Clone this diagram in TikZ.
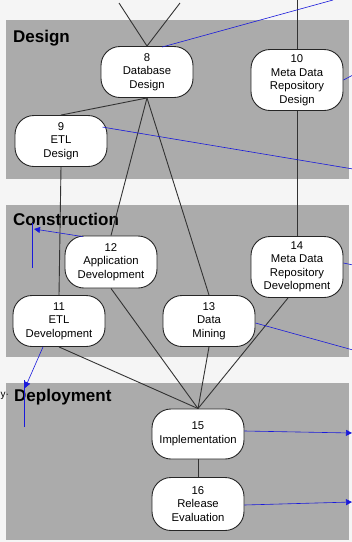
\documentclass[tikz,border=0pt]{standalone}
\usepackage{fontspec}
\setmainfont{Liberation Sans}
\usetikzlibrary{arrows.meta,calc}
\definecolor{bandgray}{HTML}{ABABAB}
\definecolor{bglight}{HTML}{F5F5F5}
\definecolor{annblue}{HTML}{1A1ADB}
\tikzset{
  task/.style={draw=black!85, line width=0.9pt, fill=white, rounded corners=19pt,
    minimum width=92pt, align=center, inner sep=1pt,
    font=\fontsize{11.3}{13.5}\selectfont},
  band/.style={fill=bandgray, draw=none},
  phase/.style={anchor=base west, font=\fontsize{17}{20}\selectfont\bfseries, inner sep=0pt},
  link/.style={draw=black!80, line width=0.9pt},
  ann/.style={draw=annblue, line width=0.6pt},
  annarrow/.style={ann, -{Triangle[length=6pt,width=6pt]}}
}
\begin{document}
\begin{tikzpicture}[x=1pt,y=-1pt]
\useasboundingbox (0,0) rectangle (352,542);
\clip (0,0) rectangle (352,542);
\fill[bglight] (0,0) rectangle (352,542);
% bands
\fill[band] (6,20) rectangle (349,179);
\fill[band] (6,205) rectangle (349,357);
\fill[band] (6,383) rectangle (349,540);
% phase labels
\node[phase] (lDesign) at (13,42) {Design};
\node[phase] (lConstr) at (13,225) {Construction};
\node[phase] (lDeploy) at (14,401) {Deployment};
\node[anchor=base west, font=\fontsize{10}{12}\selectfont, inner sep=0pt] (lstray) at (0.5,397) {y·};
% nodes
\node[task, minimum height=51pt] (n8) at (147,72) {8\\Database\\Design};
\node[task, minimum height=61pt] (n10) at (297,80) {10\\Meta Data\\Repository\\Design};
\node[task, minimum height=51pt] (n9) at (61,141) {9\\ETL\\Design};
\node[task, minimum height=52pt] (n12) at (111,262) {12\\Application\\Development};
\node[task, minimum height=61pt] (n14) at (297,267) {14\\Meta Data\\Repository\\Development};
\node[task, minimum height=51pt] (n11) at (59,321) {11\\ETL\\Development};
\node[task, minimum height=51pt] (n13) at (209,321) {13\\Data\\Mining};
\node[task, minimum height=50pt] (n15) at (198,434) {15\\Implementation};
\node[task, minimum height=53pt] (n16) at (198,504) {16\\Release\\Evaluation};
% free ends
\coordinate (t1) at (119,3);
\coordinate (t2) at (180,3);
\coordinate (t3) at (297,0);
% black connectors
\draw[link] (t1) -- (n8.north) -- (t2);
\draw[link] (t3) -- (n10.north);
\draw[link] (n10.south) -- (n14.north);
\draw[link] (n8.south) -- (n9.north);
\draw[link] (n8.south) -- (n12.north);
\draw[link] (n8.south) -- (n13.north);
\draw[link] (n9.south) -- (n11.north);
\draw[link] (n12.south) -- (n15.north);
\draw[link] (n11.south) -- (n15.north);
\draw[link] (n13.south) -- (n15.north);
\draw[link] ($(n14.south)+(-9,0)$) -- (n15.north);
\draw[link] (n15.south) -- (n16.north);
% blue annotations
\coordinate (b1) at (333,0);
\coordinate (b2) at (353,75);
\coordinate (b3) at (353,169);
\coordinate (b4) at (34,229);
\coordinate (b5) at (353,265);
\coordinate (b6) at (353,350);
\coordinate (b7) at (25,388);
\coordinate (b8) at (352,433);
\coordinate (b9) at (352,502);
\draw[ann] ($(n8.north)+(15,1)$) -- (b1);
\draw[ann] (n10.east) -- (b2);
\draw[ann] ($(n9.north east)+(-5,12)$) -- (b3);
\draw[annarrow] ($(n12.north west)+(18,1)$) -- (b4);
\draw[ann] (32,223) -- (32,268);
\draw[ann] ($(n14.east)+(0,-4)$) -- (b5);
\draw[ann] ($(n13.east)+(0,2)$) -- (b6);
\draw[annarrow] ($(n11.south)+(-16,0)$) -- (b7);
\draw[ann] (24,380) -- (24,427);
\draw[annarrow] ($(n15.east)+(0,-3)$) -- (b8);
\draw[annarrow] ($(n16.east)+(0,1)$) -- (b9);
\end{tikzpicture}
\end{document}
